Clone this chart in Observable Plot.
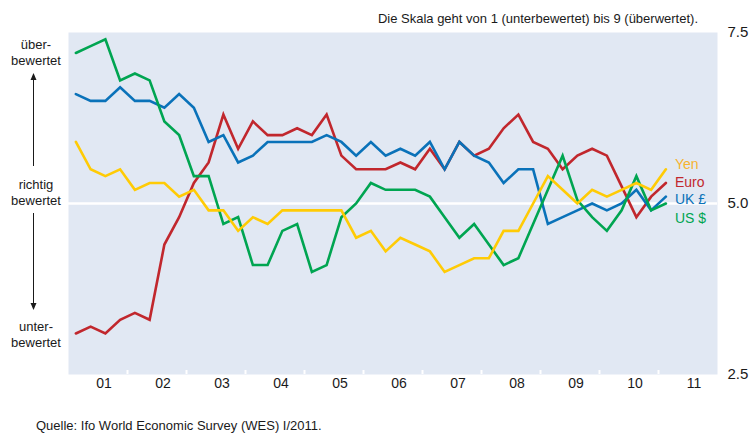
<!DOCTYPE html>
<html>
<head>
<meta charset="utf-8">
<script src="https://cdn.jsdelivr.net/npm/d3@7"></script>
<script src="https://cdn.jsdelivr.net/npm/@observablehq/plot@0.6"></script>
<style>
  html, body { margin: 0; padding: 0; background: #fff; }
  #wrap { position: relative; width: 756px; height: 434px; overflow: hidden; font-family: "Liberation Sans", Arial, sans-serif; color: #1a1a1a; }
  #wrap svg.plot { position: absolute; left: 0; top: 0; }
  .ov { position: absolute; white-space: nowrap; }
  .side { width: 72px; text-align: center; font-size: 13px; line-height: 16px; left: 0; }
  .ser { font-size: 14px; left: 675px; line-height: 16px; }
</style>
</head>
<body>
<div id="wrap"></div>
<script>
// Quarterly WES survey, 2001 Q1 – 2011 Q1
const startYear = 2001;
const yearLabels = ["01","02","03","04","05","06","07","08","09","10","11"];
const seriesNames = ["Euro", "UK £", "US $", "Yen"];

const euro = [3.1, 3.2, 3.1, 3.3, 3.4, 3.3, 4.4, 4.8, 5.3, 5.6, 6.3, 5.8, 6.2, 6.0, 6.0, 6.1, 6.0, 6.3, 5.7, 5.5,
              5.5, 5.5, 5.6, 5.5, 5.8, 5.5, 5.9, 5.7, 5.8, 6.1, 6.3, 5.9, 5.8, 5.5, 5.7, 5.8, 5.7, 5.25, 4.8, 5.1, 5.3];
const ukPound = [6.6, 6.5, 6.5, 6.7, 6.5, 6.5, 6.4, 6.6, 6.4, 5.9, 6.0, 5.6, 5.7, 5.9, 5.9, 5.9, 5.9, 6.0, 5.9, 5.7,
                 5.9, 5.7, 5.8, 5.7, 5.9, 5.5, 5.9, 5.7, 5.6, 5.3, 5.5, 5.5, 4.7, 4.8, 4.9, 5.0, 4.9, 5.0, 5.2, 4.9, 5.1];
const usDollar = [7.2, 7.3, 7.4, 6.8, 6.9, 6.8, 6.2, 6.0, 5.4, 5.4, 4.7, 4.8, 4.1, 4.1, 4.6, 4.7, 4.0, 4.1, 4.8, 5.0,
                  5.3, 5.2, 5.2, 5.2, 5.1, 4.8, 4.5, 4.7, 4.4, 4.1, 4.2, 4.7, 5.2, 5.7, 5.05, 4.8, 4.6, 4.9, 5.4, 4.9, 5.0];
const yen = [5.9, 5.5, 5.4, 5.5, 5.2, 5.3, 5.3, 5.1, 5.2, 4.9, 4.9, 4.6, 4.8, 4.7, 4.9, 4.9, 4.9, 4.9, 4.9, 4.5,
             4.6, 4.3, 4.5, 4.4, 4.3, 4.0, 4.1, 4.2, 4.2, 4.6, 4.6, 5.0, 5.4, 5.2, 5.0, 5.2, 5.1, 5.2, 5.3, 5.2, 5.5];

const colors = {"Euro": "#c1272d", "UK £": "#0a72b9", "US $": "#00a551", "Yen": "#ffcb05"};
const labelColors = {"Euro": "#c1272d", "UK £": "#0a72b9", "US $": "#00a551", "Yen": "#f7b330"};

// time position of each quarterly observation (middle of the quarter)
const qTime = i => startYear + Math.floor(i / 4) + ((i % 4) + 0.5) / 4;

const seriesData = {"Euro": euro, "UK £": ukPound, "US $": usDollar, "Yen": yen};
const rows = [];
for (const name of seriesNames) {
  seriesData[name].forEach((v, i) => rows.push({series: name, t: qTime(i), value: v}));
}

const yearStarts = d3.range(startYear + 1, startYear + yearLabels.length);
const yearMids = yearLabels.map((_, i) => startYear + i + 0.5);

const chart = Plot.plot({
  width: 756,
  height: 434,
  marginLeft: 68,
  marginRight: 39,
  marginTop: 32,
  marginBottom: 60,
  style: {fontFamily: "Liberation Sans, Arial, sans-serif", color: "#1a1a1a", background: "transparent"},
  x: {type: "linear", domain: [startYear, startYear + yearLabels.length], axis: null, label: null},
  y: {domain: [2.5, 7.5], axis: null, label: null},
  marks: [
    Plot.frame({fill: "#e1e8f3", stroke: null}),
    Plot.ruleX(yearStarts, {stroke: "white", strokeWidth: 2, insetTop: 338}),
    Plot.ruleY([5], {stroke: "white", strokeWidth: 2.5}),
    Plot.line(rows, {x: "t", y: "value", z: "series", stroke: d => colors[d.series], strokeWidth: 2.6, strokeLinejoin: "miter", strokeMiterlimit: 4}),
    Plot.axisX(yearMids, {anchor: "bottom", label: null, tickSize: 0, tickPadding: 4, dx: 6, fontSize: 14, tickFormat: (d) => yearLabels[Math.floor(d) - startYear]}),
    Plot.axisY([2.5, 5, 7.5], {anchor: "right", label: null, tickSize: 0, tickPadding: 10, fontSize: 15, tickFormat: d3.format(".1f")})
  ]
});
chart.classList.add("plot");

const wrap = document.getElementById("wrap");
wrap.appendChild(chart);

function addText(text, cls, style) {
  const d = document.createElement("div");
  d.className = "ov " + cls;
  d.innerHTML = text;
  Object.assign(d.style, style);
  wrap.appendChild(d);
  return d;
}

addText("Die Skala geht von 1 (unterbewertet) bis 9 (überwertet).", "", {right: "58px", top: "11px", fontSize: "13px"});
addText("über-<br>bewertet", "side", {top: "37px"});
addText("richtig<br>bewertet", "side", {top: "177px"});
addText("unter-<br>bewertet", "side", {top: "319px"});
addText("Quelle: Ifo World Economic Survey (WES) I/2011.", "", {left: "36px", top: "418px", fontSize: "13px", lineHeight: "15px"});

const labelTops = {"Yen": 156, "Euro": 174, "UK £": 191, "US $": 210};
for (const name of ["Yen", "Euro", "UK £", "US $"]) {
  addText(name, "ser", {top: labelTops[name] + "px", color: labelColors[name]});
}

// arrows on the left
const ns = "http://www.w3.org/2000/svg";
const asvg = document.createElementNS(ns, "svg");
asvg.setAttribute("width", 756); asvg.setAttribute("height", 434);
asvg.style.position = "absolute"; asvg.style.left = 0; asvg.style.top = 0;
asvg.innerHTML = `
  <line x1="33.5" y1="166" x2="33.5" y2="80" stroke="#1a1a1a" stroke-width="1"/>
  <path d="M30.5,80 L33.5,73 L36.5,80 Z" fill="#1a1a1a"/>
  <line x1="33.5" y1="213" x2="33.5" y2="303" stroke="#1a1a1a" stroke-width="1"/>
  <path d="M30.5,303 L33.5,310 L36.5,303 Z" fill="#1a1a1a"/>`;
wrap.appendChild(asvg);
</script>
</body>
</html>
